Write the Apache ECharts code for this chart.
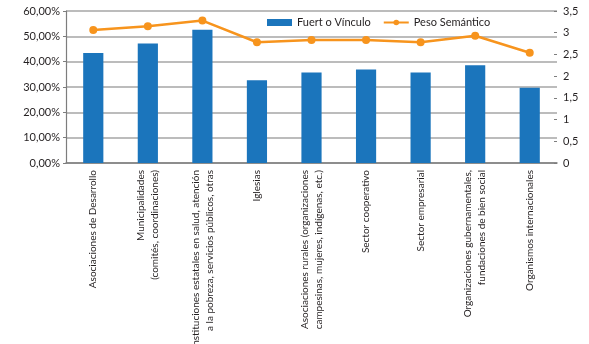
<!DOCTYPE html>
<html>
<head>
<meta charset="utf-8">
<script src="https://cdn.jsdelivr.net/npm/echarts@6/dist/echarts.min.js"></script>
<style>
  html, body { margin: 0; padding: 0; background: #fff; }
  #chart { width: 589px; height: 344px; }
</style>
</head>
<body>
<div id="chart"></div>
<script>
var categories = [
    'Asociaciones de Desarrollo',
    'Municipalidades\n(comités, coordinaciones)',
    'Instituciones estatales en salud, atención\na la pobreza, servicios públicos, otras',
    'Iglesias',
    'Asociaciones rurales (organizaciones\ncampesinas, mujeres, indígenas, etc.)',
    'Sector cooperativo',
    'Sector empresarial',
    'Organizaciones gubernamentales,\nfundaciones de bien social',
    'Organismos internacionales'
];
var vinculo = [43.4, 47.2, 52.6, 32.7, 35.7, 36.9, 35.7, 38.6, 29.7];
var pesoSemantico = [3.06, 3.15, 3.28, 2.78, 2.83, 2.83, 2.78, 2.93, 2.54];
var leftTicks = [0, 10, 20, 30, 40, 50, 60];
var rightTicks = [0, 0.5, 1, 1.5, 2, 2.5, 3, 3.5];

var fontName = 'Lato, "Open Sans", sans-serif';
var txt = '#231f20';

var chart = echarts.init(document.getElementById('chart'));
var option = {
    animation: false,
    textStyle: { fontFamily: fontName },
    grid: { left: 66, right: 32, top: 11, bottom: 181, containLabel: false, outerBoundsMode: 'none' },
    legend: {
        left: 262,
        top: 12,
        itemGap: 12,
        itemHeight: 7,
        textStyle: { fontSize: 11, color: txt, fontFamily: fontName },
        data: [
            { name: 'Fuert o Vínculo', icon: 'rect' },
            { name: 'Peso Semántico' }
        ]
    },
    xAxis: {
        type: 'category',
        data: categories,
        axisLine: { lineStyle: { color: '#7d7d7d', width: 1.5 } },
        axisTick: { show: false },
        axisLabel: {
            rotate: 90,
            interval: 0,
            margin: 7,
            fontSize: 10,
            lineHeight: 14,
            color: txt,
            fontFamily: fontName
        }
    },
    yAxis: [
        {
            type: 'value',
            min: leftTicks[0],
            max: leftTicks[leftTicks.length - 1],
            interval: 10,
            axisLine: { show: true, lineStyle: { color: '#7d7d7d', width: 1.2 } },
            axisTick: { show: true, length: 3, lineStyle: { color: '#7d7d7d' } },
            splitLine: { lineStyle: { color: '#a6a6a6', width: 1.5 } },
            axisLabel: {
                fontSize: 11,
                color: txt,
                margin: 6,
                formatter: function (v) { return v.toFixed(2).replace('.', ',') + '%'; }
            }
        },
        {
            type: 'value',
            min: rightTicks[0],
            max: rightTicks[rightTicks.length - 1],
            interval: 0.5,
            position: 'right',
            axisLine: { show: false },
            axisTick: { show: true, length: 3, inside: true, lineStyle: { color: '#7d7d7d' } },
            splitLine: { show: false },
            axisLabel: {
                fontSize: 11,
                color: txt,
                margin: 6,
                formatter: function (v) { return String(v).replace('.', ','); }
            }
        }
    ],
    series: [
        {
            name: 'Fuert o Vínculo',
            type: 'bar',
            yAxisIndex: 0,
            data: vinculo,
            barWidth: '37%',
            itemStyle: { color: '#1b75bc' }
        },
        {
            name: 'Peso Semántico',
            type: 'line',
            yAxisIndex: 1,
            data: pesoSemantico,
            symbol: 'circle',
            symbolSize: 8,
            lineStyle: { color: '#f7941d', width: 2.5 },
            itemStyle: { color: '#f7941d' }
        }
    ]
};
chart.setOption(option);
</script>
</body>
</html>
